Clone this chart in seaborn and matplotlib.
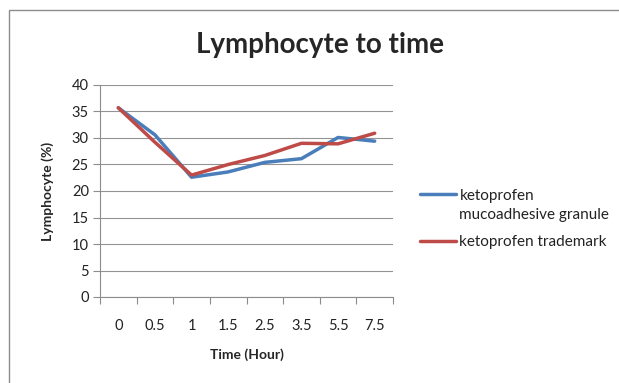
import matplotlib
matplotlib.use("Agg")
import matplotlib.pyplot as plt
from matplotlib.patches import Rectangle
from matplotlib.ticker import FixedLocator
import seaborn as sns
import pandas as pd

time_labels = ["0", "0.5", "1", "1.5", "2.5", "3.5", "5.5", "7.5"]
granule = [35.7, 30.6, 22.6, 23.6, 25.4, 26.1, 30.1, 29.4]
trademark = [35.7, 29.2, 23.0, 25.0, 26.7, 29.0, 28.9, 30.9]
series_names = ["ketoprofen\nmucoadhesive granule", "ketoprofen trademark"]

rows = []
for name, vals in zip(series_names, [granule, trademark]):
    for i, (t, v) in enumerate(zip(time_labels, vals)):
        rows.append({"pos": i, "Time": t, "Lymphocyte": v, "series": name})
df = pd.DataFrame(rows)

sns.set_theme(style="white")
plt.rcParams["font.family"] = ["Lato", "DejaVu Sans"]

fig = plt.figure(figsize=(6.19, 3.83), dpi=100)
W, H = 619, 383
ax = fig.add_axes([100 / W, 1 - 297 / H, 293 / W, 212 / H])

sns.lineplot(data=df, x="pos", y="Lymphocyte", hue="series",
             palette=["#4A7EBB", "#BE4B48"], linewidth=2.5, ax=ax,
             legend=True)

ax.set_xlim(-0.5, 7.5)
ax.set_ylim(0, 40)
ax.set_yticks(range(0, 41, 5))
ax.yaxis.grid(True, color="#939393", linewidth=0.8)
ax.set_axisbelow(True)

ax.set_xticks(range(len(time_labels)))
ax.set_xticklabels(time_labels)
ax.xaxis.set_minor_locator(FixedLocator([i - 0.5 for i in range(len(time_labels) + 1)]))
ax.tick_params(axis="x", which="major", length=0, pad=16, labelsize=10.5, colors="#222222")
ax.tick_params(axis="x", which="minor", length=5, width=0.8, color="#8c8c8c", direction="out", bottom=True)
ax.tick_params(axis="y", which="major", length=5, width=0.8, color="#8c8c8c", direction="out",
               left=True, labelsize=10.5, labelcolor="#222222", pad=3)

for side in ["top", "right"]:
    ax.spines[side].set_visible(False)
for side in ["left", "bottom"]:
    ax.spines[side].set_color("#8c8c8c")
    ax.spines[side].set_linewidth(0.8)

ax.set_xlabel("Time (Hour)", fontsize=10, fontweight="bold", labelpad=11)
ax.set_ylabel("Lymphocyte (%)", fontsize=10, fontweight="bold", labelpad=13)

fig.text(320 / W, 1 - 45 / H, "Lymphocyte to time", ha="center", va="center",
         fontsize=20, fontweight="bold")

handles, labels = ax.get_legend_handles_labels()
leg = ax.legend(handles, labels, loc="upper left", bbox_to_anchor=(406 / W, 1 - 175 / H),
                bbox_transform=fig.transFigure, frameon=False, fontsize=11,
                handlelength=2.4, handletextpad=0.2, labelspacing=0.9)
for txt in leg.get_texts():
    txt.set_linespacing(1.45)
    txt.set_color("#222222")
# put each legend line next to the first line of its label
for column in leg._legend_handle_box.get_children():
    for row in column.get_children():
        row.align = "top"

fig.patches.append(Rectangle((9 / W, -0.5), 2.0, 1 - 10 / H + 0.5,
                             transform=fig.transFigure, fill=False,
                             edgecolor="#8c8c8c", linewidth=1.0))

fig.savefig("out.png", dpi=100)
